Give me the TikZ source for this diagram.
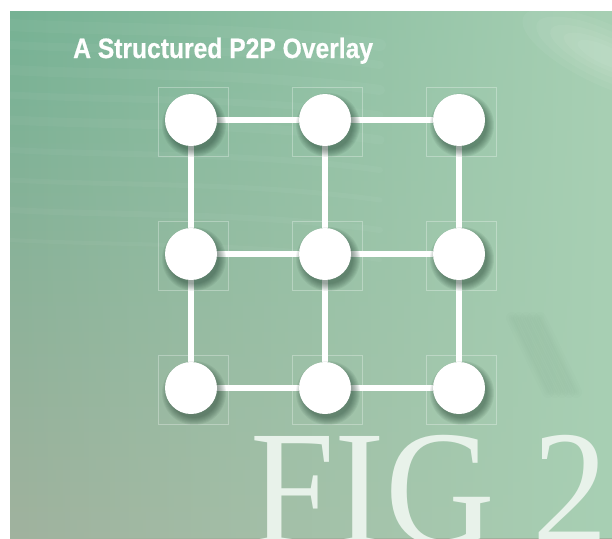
\documentclass[tikz,border=0pt]{standalone}
\usepackage{fontspec}
\newfontfamily\titlefont[FakeStretch=0.88, FakeBold=0.6]{Liberation Sans Bold}
\newfontfamily\figfont[FakeStretch=0.92]{Liberation Serif}
\usetikzlibrary{fadings}
\definecolor{bgtop}{RGB}{118,178,148}
\definecolor{bgbot}{RGB}{160,178,158}
\definecolor{bgright}{RGB}{168,208,180}
\definecolor{shadowc}{RGB}{30,60,45}
\definecolor{figc}{RGB}{232,242,234}
\tikzfading[name=fadeR, left color=transparent!100, right color=transparent!0]
\pgfdeclarelayer{bg}
\pgfdeclarelayer{edgelayer}
\pgfdeclarelayer{shadowlayer}
\pgfsetlayers{bg,edgelayer,shadowlayer,main}
\tikzset{
  peer/.style={circle, fill=white, minimum size=52pt, inner sep=0pt},
  link/.style={draw=white, line width=6pt},
  cell/.style={draw=white, draw opacity=0.3, line width=0.6pt},
  streak/.style={white, line cap=round, opacity=0.035},
}
\begin{document}
\begin{tikzpicture}[x=1pt,y=-1pt]
\useasboundingbox (0,0) rectangle (612,538);
\begin{pgfonlayer}{bg}
  \coordinate (bgA) at (10,11);
  \coordinate (bgB) at (612,538);
  \shade[top color=bgtop, bottom color=bgbot] (bgA) rectangle (bgB);
  \fill[bgright, path fading=fadeR] (bgA) rectangle (bgB);
  \begin{scope}
    \clip (bgA) rectangle (bgB);
    % light streaks
    \foreach \y/\w in {25/12,45/8,70/10,95/7,120/9,150/6,180/5,210/6,240/4} {
      \draw[streak, line width=\w pt] (10,\y) .. controls (120,\y+6) and (250,\y+2) .. (380,\y+20);
    }
    % soft glow top right
    \foreach \a/\b in {90/30,75/24,60/18,45/13,30/9} {
      \fill[white, opacity=0.05, rotate around={-25:(605,55)}] (605,55) ellipse ({\a} and {\b});
    }
    % dark brush strokes
    \foreach \dx in {0,7,14,21,28} {
      \foreach \w in {12,7,3} {
        \draw[shadowc, opacity=0.012, line width=\w pt, line cap=round] (512+\dx,318) -- (548+\dx,392);
      }
    }
    % FIG 2
    \node[anchor=base west, inner sep=0pt, text=figc, font=\figfont\fontsize{165}{165}\selectfont] (fig) at (250,544) {FIG 2};
  \end{scope}
\end{pgfonlayer}

\node[peer] (n11) at (191,120) {};
\node[peer] (n12) at (325,120) {};
\node[peer] (n13) at (459,120) {};
\node[peer] (n21) at (191,254) {};
\node[peer] (n22) at (325,254) {};
\node[peer] (n23) at (459,254) {};
\node[peer] (n31) at (191,388) {};
\node[peer] (n32) at (325,388) {};
\node[peer] (n33) at (459,388) {};

\begin{pgfonlayer}{bg}
  \foreach \n in {n11,n12,n13,n21,n22,n23,n31,n32,n33} {
    \draw[cell] ([shift={(-33,-33)}]\n.center) rectangle ([shift={(37,36)}]\n.center);
  }
\end{pgfonlayer}

\begin{pgfonlayer}{edgelayer}
  \draw[link] (n11) -- (n12);
  \draw[link] (n12) -- (n13);
  \draw[link] (n21) -- (n22);
  \draw[link] (n22) -- (n23);
  \draw[link] (n31) -- (n32);
  \draw[link] (n32) -- (n33);
  \draw[link] (n11) -- (n21);
  \draw[link] (n21) -- (n31);
  \draw[link] (n12) -- (n22);
  \draw[link] (n22) -- (n32);
  \draw[link] (n13) -- (n23);
  \draw[link] (n23) -- (n33);
\end{pgfonlayer}

\begin{pgfonlayer}{shadowlayer}
  \foreach \n in {n11,n12,n13,n21,n22,n23,n31,n32,n33} {
    \foreach \r in {32,31,30,29,28,27,26,25} {
      \fill[shadowc, opacity=0.07] ([shift={(3,5)}]\n.center) circle (\r);
    }
  }
\end{pgfonlayer}

\node[anchor=base west, inner sep=0pt, text=white, font=\titlefont\fontsize{28}{28}\selectfont] (title) at (73,58) {A Structured P2P Overlay};
\end{tikzpicture}
\end{document}
